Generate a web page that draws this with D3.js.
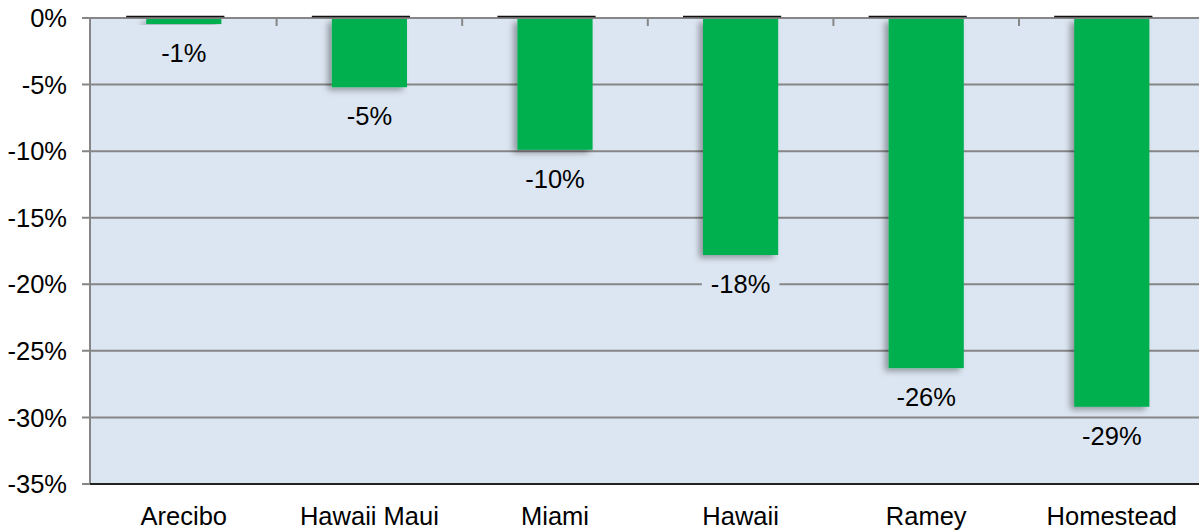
<!DOCTYPE html>
<html>
<head>
<meta charset="utf-8">
<script src="https://cdn.jsdelivr.net/npm/d3@7"></script>
<style>
  body { margin: 0; background: #fff; }
  svg { display: block; font-family: Arial, "Liberation Sans", sans-serif; }
</style>
</head>
<body>
<div id="chart"></div>
<script>
// data
let categories = ["Arecibo", "Hawaii Maui", "Miami", "Hawaii", "Ramey", "Homestead"];
let values = [-0.45, -5.2, -9.9, -17.8, -26.3, -29.2];
let labels = ["-1%", "-5%", "-10%", "-18%", "-26%", "-29%"];
let yTicks = [0, -5, -10, -15, -20, -25, -30, -35];

let width = 1199, height = 531;
let plotLeft = 90, plotTop = 18, plotBottom = 484, bandW = 185.6;
let fontSize = 25.5;

let svg = d3.select("#chart").append("svg")
    .attr("width", width)
    .attr("height", height);

let defs = svg.append("defs");
let f = defs.append("filter").attr("id", "shadow")
    .attr("x", "-30%").attr("y", "-10%").attr("width", "140%").attr("height", "130%");
f.append("feDropShadow")
    .attr("dx", -4).attr("dy", 3).attr("stdDeviation", 3)
    .attr("flood-color", "#000").attr("flood-opacity", 0.35);

let x = d3.scaleBand()
    .domain(categories)
    .range([plotLeft + 1, plotLeft + 1 + bandW * categories.length])
    .paddingInner(0.595)
    .paddingOuter(0.2975);

let y = d3.scaleLinear()
    .domain([0, -35])
    .range([plotTop, plotBottom]);

// plot background
svg.append("rect")
    .attr("x", plotLeft).attr("y", plotTop)
    .attr("width", width - plotLeft).attr("height", plotBottom - plotTop)
    .attr("fill", "#DCE6F2");

// gridlines
svg.append("g").selectAll("line")
    .data(yTicks.slice(0, -1))
    .enter().append("line")
    .attr("x1", plotLeft - 8).attr("x2", width)
    .attr("y1", d => y(d)).attr("y2", d => y(d))
    .attr("stroke", "#868686").attr("stroke-width", 2);

// category ticks at top
svg.append("g").selectAll("line")
    .data(categories.slice(1))
    .enter().append("line")
    .attr("x1", d => x(d) - x.step() * x.paddingInner() / 2)
    .attr("x2", d => x(d) - x.step() * x.paddingInner() / 2)
    .attr("y1", plotTop).attr("y2", plotTop + 8)
    .attr("stroke", "#868686").attr("stroke-width", 2);

// left axis
svg.append("line")
    .attr("x1", plotLeft).attr("x2", plotLeft)
    .attr("y1", plotTop).attr("y2", plotBottom)
    .attr("stroke", "#868686").attr("stroke-width", 2);
svg.append("line")
    .attr("x1", plotLeft - 8).attr("x2", plotLeft)
    .attr("y1", plotBottom).attr("y2", plotBottom)
    .attr("stroke", "#868686").attr("stroke-width", 2);

// bottom axis line
svg.append("line")
    .attr("x1", plotLeft).attr("x2", width)
    .attr("y1", plotBottom).attr("y2", plotBottom)
    .attr("stroke", "#222").attr("stroke-width", 2);

// dark caps above bars
svg.append("g").selectAll("line")
    .data(categories)
    .enter().append("line")
    .attr("x1", d => x(d) - 20).attr("x2", d => x(d) + x.bandwidth() + 3)
    .attr("y1", plotTop - 1.5).attr("y2", plotTop - 1.5)
    .attr("stroke", "#111").attr("stroke-width", 1.5);

// bars
svg.append("g").selectAll("rect")
    .data(values)
    .enter().append("rect")
    .attr("x", (d, i) => x(categories[i]))
    .attr("y", y(0) + 1)
    .attr("width", x.bandwidth())
    .attr("height", d => y(d) - y(0) - 1)
    .attr("fill", "#00B050")
    .attr("filter", "url(#shadow)");

// value labels with background
let lab = svg.append("g").selectAll("g")
    .data(values)
    .enter().append("g")
    .attr("transform", (d, i) => `translate(${x(categories[i]) + x.bandwidth() / 2},${y(d) + 29})`);
let bg = lab.append("rect")
    .attr("fill", "#DCE6F2");
let txt = lab.append("text")
    .attr("text-anchor", "middle")
    .attr("dy", "0.36em")
    .attr("font-size", fontSize)
    .attr("fill", "#000")
    .text((d, i) => labels[i]);
txt.each(function (d, i) {
    let w = this.getComputedTextLength();
    d3.select(bg.nodes()[i])
        .attr("x", -w / 2 - 9).attr("y", -14)
        .attr("width", w + 18).attr("height", 28);
});

// y tick labels
svg.append("g").selectAll("text")
    .data(yTicks)
    .enter().append("text")
    .attr("x", 67).attr("y", d => y(d))
    .attr("dy", "0.36em")
    .attr("text-anchor", "end")
    .attr("font-size", fontSize)
    .text(d => d + "%");

// x labels
svg.append("g").selectAll("text")
    .data(categories)
    .enter().append("text")
    .attr("x", d => x(d) + x.bandwidth() / 2)
    .attr("y", 525)
    .attr("text-anchor", "middle")
    .attr("font-size", fontSize)
    .text(d => d);
</script>
</body>
</html>
